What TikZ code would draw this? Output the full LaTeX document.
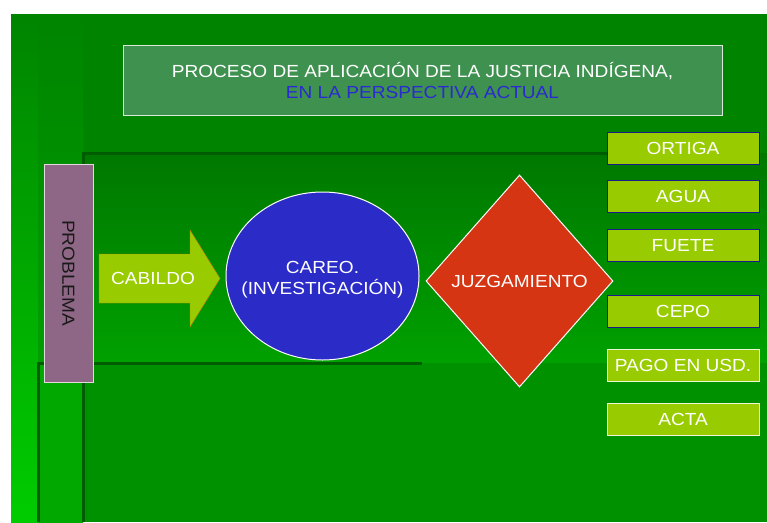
\documentclass[tikz,border=0pt]{standalone}
\usepackage{fontspec}
\setmainfont[FakeStretch=1.09]{Liberation Sans}
\usetikzlibrary{shapes.geometric}

\definecolor{slidegreen}{HTML}{008400}
\definecolor{panelshade}{HTML}{005C00}
\definecolor{titlefill}{HTML}{3F9150}
\definecolor{titleblue}{HTML}{2A2AD0}
\definecolor{problemfill}{HTML}{8F6786}
\definecolor{limefill}{HTML}{99CC00}
\definecolor{limeedge}{HTML}{C8780A}
\definecolor{careofill}{HTML}{2B2BC8}
\definecolor{juzgafill}{HTML}{D63513}
\definecolor{boxnavy}{HTML}{1A1A8C}

\begin{document}
\begin{tikzpicture}[x=1pt,y=-1pt,
	every node/.style={font=\fontsize{17.5}{21}\selectfont,text=white},
	sanctionbox/.style={rectangle,fill=limefill,draw=boxnavy,line width=1pt,
		minimum width=152pt,minimum height=32pt,inner sep=0pt},
	paidbox/.style={sanctionbox,draw=white!85!limefill}]
		\useasboundingbox (0,0) rectangle (767,522);
%		\draw[help lines,step=50] (0,0) grid (767,522);
		\path (11,14) coordinate (slide_nw);
		\path (767,522) coordinate (slide_se);
		\path (83,153) coordinate (panel_nw);
		\path (607,153) coordinate (panel_ne);
		\path (38,363) coordinate (lower_nw);
		\path (422,363) coordinate (lower_ne);
		\path (83,363) coordinate (lower_mid);

		% fondo
		\fill[slidegreen] (slide_nw) rectangle (slide_se);
		\shade[top color=slidegreen,bottom color=green!67!black] (11,14) rectangle (83,522);
		\shade[top color=slidegreen,bottom color=green!80!black] (11,14) rectangle (38,522);
		\shade[top color=green!47!black,bottom color=green!63!black] (panel_nw) rectangle (767,363);
		\fill[green!57!black] (lower_mid) rectangle (slide_se);
		\fill[green!66!black] (lower_nw) rectangle (83,522);
		\draw[panelshade,line width=3pt] (83,363) -- (panel_nw) -- (panel_ne);
		\draw[panelshade,line width=3pt] (38,522) -- (lower_nw) -- (lower_ne);
		\draw[panelshade,line width=3pt] (lower_mid) -- (83,522);

		\node[rectangle,fill=titlefill,draw=white!80!titlefill,line width=1pt,
			minimum width=599pt,minimum height=70pt,align=center] (title) at (422.5,80)
			{PROCESO DE APLICACIÓN DE LA JUSTICIA INDÍGENA,\\
			\textcolor{titleblue}{EN LA PERSPECTIVA ACTUAL}};

		\node[rectangle,fill=problemfill,draw=white!75!problemfill,line width=1pt,
			minimum width=218pt,minimum height=49pt,inner sep=0pt,
			text=black!90,rotate=-90] (problema) at (68.5,273) {PROBLEMA};

		\draw[fill=limefill,draw=limeedge] (99,254) -- (190,254) -- (190,230)
			-- (220,278.5) -- (190,327) -- (190,303) -- (99,303) -- cycle;
		\node (cabildo) at (153,278.5) {CABILDO};

		\node[ellipse,fill=careofill,draw=white,line width=1pt,
			minimum width=193pt,minimum height=168pt,inner sep=0pt]
			(careo) at (322.5,276) {};
		\node[align=center] (careotext) at (322.5,279.5) {CAREO.\\(INVESTIGACIÓN)};

		\node[diamond,fill=juzgafill,draw=white,line width=1pt,
			minimum width=187pt,minimum height=212pt,inner sep=0pt]
			(juzga) at (519.5,281) {JUZGAMIENTO};

		\node[sanctionbox] (ortiga) at (683,148) {ORTIGA};
		\node[sanctionbox] (agua) at (683,196.5) {AGUA};
		\node[sanctionbox] (fuete) at (683,245.5) {FUETE};
		\node[sanctionbox] (cepo) at (683,311) {CEPO};
		\node[paidbox] (pago) at (683,365.5) {PAGO EN USD.};
		\node[paidbox] (acta) at (683,419.5) {ACTA};
	\end{tikzpicture}
\end{document}
